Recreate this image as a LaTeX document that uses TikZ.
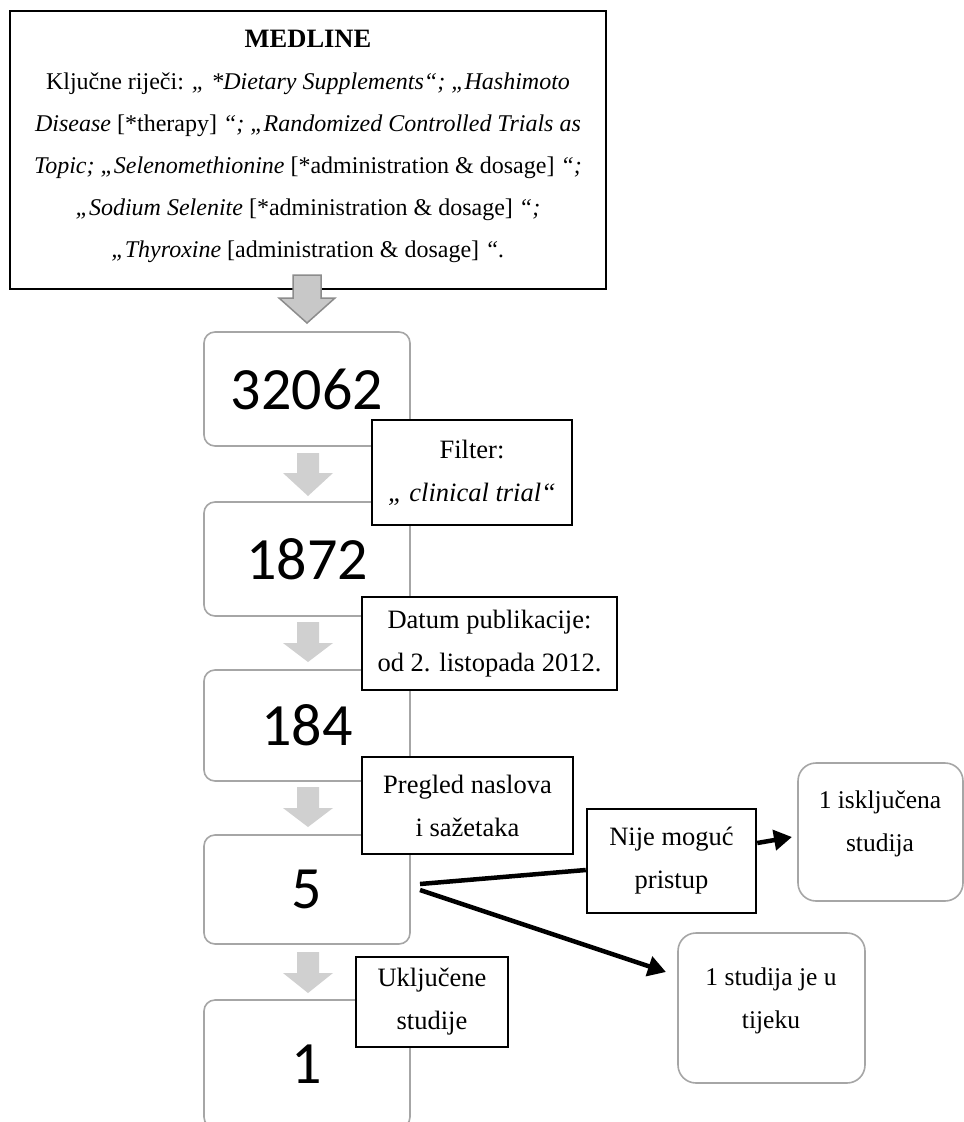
\documentclass[tikz,border=0pt]{standalone}
\usepackage{fontspec}
\setmainfont{Liberation Serif}
\newfontfamily\calib{Carlito}
\usetikzlibrary{arrows.meta}
\definecolor{boxgray}{HTML}{A6A6A6}
\definecolor{arrowgray}{HTML}{D0D0D0}
\definecolor{bigfill}{HTML}{C8C8C8}
\definecolor{bigline}{HTML}{8C8C8C}
\newcommand\smallgarrow[4]{%
  \fill[arrowgray] (#1-11,#2) -- (#1+11,#2) -- (#1+11,#3) -- (#1+25,#3) -- (#1,#4) -- (#1-25,#3) -- (#1-11,#3) -- cycle;}
\begin{document}
\begin{tikzpicture}[x=1pt,y=-1pt,
  numbox/.style={draw=boxgray, line width=1.6pt, rounded corners=11pt, fill=white,
     inner sep=0pt, minimum width=206pt, font=\calib\fontsize{60}{60}\selectfont},
  labelbox/.style={draw=black, line width=2.5pt, fill=white, inner sep=0pt, align=center,
     font=\fontsize{26.5}{43}\selectfont},
  studybox/.style={draw=boxgray, line width=1.6pt, rounded corners=18pt, fill=white,
     inner sep=0pt},
  studytext/.style={align=center, inner sep=0pt, font=\fontsize{25.5}{43}\selectfont},
  conn/.style={line width=4.5pt, black},
  connarrow/.style={line width=4.5pt, black, -{Triangle[length=18pt,width=20pt]}}
]
\useasboundingbox (0,0) rectangle (964,1122);
\clip (0,0) rectangle (964,1122);
\fill[white] (0,0) rectangle (964,1122);

% top box
\node[draw=black, line width=2.8pt, fill=white, minimum width=596pt, minimum height=278pt, inner sep=0pt] (medline) at (308,150) {};
\node[align=center, inner sep=0pt, font=\fontsize{24}{42}\selectfont] (medtext) at (308,146) {%
{\fontsize{26.5}{42}\selectfont\textbf{MEDLINE}}\\
Ključne riječi: \textit{„ *Dietary Supplements“; „Hashimoto}\\
\textit{Disease} [*therapy] \textit{“; „Randomized Controlled Trials as}\\
\textit{Topic; „Selenomethionine} [*administration \& dosage] \textit{“;}\\
\textit{„Sodium Selenite} [*administration \& dosage] \textit{“;}\\
\textit{„Thyroxine} [administration \& dosage] \textit{“.}};

% big arrow
\filldraw[fill=bigfill, draw=bigline, line width=1.5pt]
  (293,275) -- (321,275) -- (321,298) -- (335,298) -- (307,323) -- (279,298) -- (293,298) -- cycle;

% number boxes
\node[numbox, minimum height=114pt] (n1) at (307,389) {32062};
\node[numbox, minimum height=114pt] (n2) at (307,559) {1872};
\node[numbox, minimum height=111pt] (n3) at (307,725.5) {184};
\node[numbox, minimum height=109pt] (n4) at (307,889.5) {5};
\node[numbox, minimum height=128pt] (n5) at (307,1064) {1};

% small arrows
\smallgarrow{308}{453}{473}{496}
\smallgarrow{308}{622}{643}{662}
\smallgarrow{308}{787}{808}{827}
\smallgarrow{308}{952}{973}{993}

% label boxes
\node[labelbox, minimum width=200pt, minimum height=105pt] (filter) at (472,472.5) {Filter:\\\textit{„ clinical trial“}};
\node[labelbox, minimum width=255pt, minimum height=93pt] (datum) at (489.5,643.5) {Datum publikacije:\\od 2. listopada 2012.};
\node[labelbox, minimum width=211pt, minimum height=97pt] (pregled) at (467.5,805.5) {Pregled naslova\\i sažetaka};
\node[labelbox, minimum width=152pt, minimum height=90pt] (ukljucene) at (432,1002) {Uključene\\studije};
\node[labelbox, minimum width=169pt, minimum height=104pt] (nije) at (671.5,861) {Nije moguć\\pristup};

% study boxes
\node[studybox, minimum width=165pt, minimum height=138pt] (iskl) at (880.5,832) {};
\node[studytext] (iskltext) at (880,824) {1 isključena\\studija};
\node[studybox, minimum width=187pt, minimum height=150pt] (tijek) at (771.5,1008) {};
\node[studytext] (tijektext) at (771,1001) {1 studija je u\\tijeku};

% connectors
\coordinate (s1) at (420,884);
\coordinate (s2) at (420,890);
\coordinate (e2) at (666,972);
\coordinate (e3) at (792,837);
\draw[conn] (s1) -- (nije.west |- 0,870);
\draw[connarrow] (s2) -- (e2);
\draw[connarrow] (nije.east |- 0,843) -- (e3);
\end{tikzpicture}
\end{document}
